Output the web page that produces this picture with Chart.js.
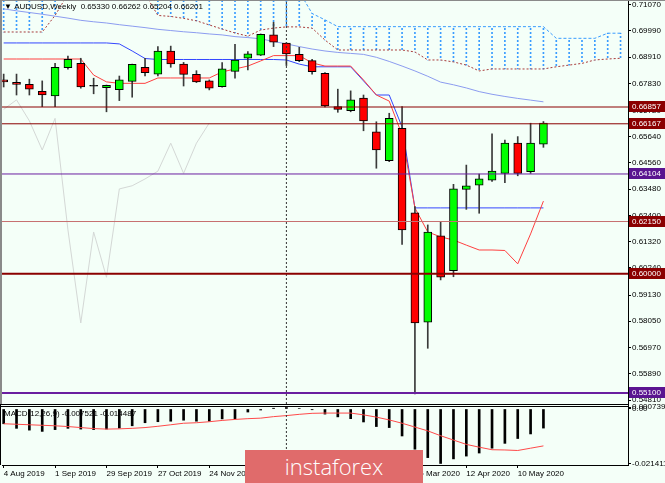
<!DOCTYPE html>
<html>
<head>
<meta charset="utf-8">
<script src="https://cdn.jsdelivr.net/npm/chart.js@4.4.1/dist/chart.umd.min.js"></script>
<style>
html, body { margin: 0; padding: 0; background: #f4fff8; }
#wrap { position: relative; width: 665px; height: 483px; }
#brand { position: absolute; left: 245px; top: 450px; width: 178px; height: 33px; background: #e06b6b;
  color: #fff; font: 300 22px "Open Sans", sans-serif; text-align: center; line-height: 32px; }
</style>
</head>
<body>
<div id="wrap">
  <canvas id="c" width="665" height="483"></canvas>
  <div id="brand">instaforex</div>
</div>
<script>
// AUDUSD weekly, 4 Aug 2019 .. 24 May 2020
const open  = [0.6797,0.6787,0.6779,0.6750,0.6731,0.6847,0.6865,0.6772,0.6765,0.6757,0.6791,0.6849,0.6821,0.6916,0.6862,0.6820,0.6793,0.6769,0.6832,0.6886,0.6899,0.6982,0.6948,0.6902,0.6876,0.6824,0.6687,0.6671,0.6722,0.6584,0.6465,0.6598,0.6251,0.5801,0.6156,0.6013,0.6347,0.6364,0.6385,0.6413,0.6537,0.6420,0.6533];
const high  = [0.6821,0.6821,0.6800,0.6793,0.6865,0.6895,0.6886,0.6804,0.6776,0.6813,0.6862,0.6886,0.6934,0.6936,0.6869,0.6835,0.6797,0.6868,0.6943,0.6913,0.6986,0.7034,0.6950,0.6931,0.6882,0.6827,0.6759,0.6752,0.6735,0.6625,0.6660,0.6687,0.6276,0.6201,0.6214,0.6368,0.6447,0.6410,0.6575,0.6550,0.6564,0.6619,0.6626];
const low   = [0.6768,0.6735,0.6735,0.6687,0.6687,0.6841,0.6763,0.6740,0.6666,0.6712,0.6726,0.6813,0.6813,0.6849,0.6772,0.6786,0.6756,0.6767,0.6804,0.6838,0.6897,0.6934,0.6856,0.6872,0.6821,0.6686,0.6664,0.6666,0.6588,0.6434,0.6461,0.6121,0.5506,0.5694,0.5975,0.5988,0.6265,0.6249,0.6380,0.6375,0.6403,0.6413,0.6520];
const close = [0.6789,0.6779,0.6759,0.6735,0.6849,0.6882,0.6768,0.6771,0.6775,0.6797,0.6861,0.6827,0.6916,0.6863,0.6820,0.6789,0.6763,0.6843,0.6879,0.6904,0.6984,0.6952,0.6904,0.6876,0.6831,0.6690,0.6676,0.6715,0.6629,0.6509,0.6639,0.6181,0.5798,0.6172,0.5986,0.6349,0.6362,0.6390,0.6422,0.6537,0.6413,0.6537,0.6620];

// ichimoku
const tenkan = [0.6883,0.6883,0.6883,0.6883,0.6883,0.6883,0.6883,0.6817,0.6789,0.6783,0.6783,0.6783,0.6805,0.6805,0.6805,0.6805,0.6805,0.6830,0.6842,0.6854,0.6875,0.6897,0.6897,0.6897,0.6867,0.6854,0.6854,0.6854,0.6797,0.6735,0.6710,0.6571,0.6271,0.6172,0.6152,0.6139,0.6118,0.6098,0.6098,0.6096,0.6041,0.6164,0.6299];
const kijun  = [0.6949,0.6949,0.6949,0.6949,0.6949,0.6949,0.6949,0.6949,0.6949,0.6945,0.6916,0.6885,0.6881,0.6881,0.6881,0.6881,0.6881,0.6881,0.6881,0.6881,0.6881,0.6881,0.6879,0.6862,0.6851,0.6851,0.6851,0.6851,0.6793,0.6735,0.6735,0.6604,0.6271,0.6271,0.6271,0.6271,0.6271,0.6271,0.6271,0.6271,0.6271,0.6271,0.6271];
const spanA  = [0.7160,0.7160,0.7160,0.7160,0.7160,0.7160,0.7160,0.7160,0.7160,0.7160,0.7160,0.7160,0.7160,0.7160,0.7160,0.7160,0.7160,0.7160,0.7160,0.7160,0.7160,0.7160,0.7160,0.7160,0.7070,0.7044,0.7016,0.7016,0.7016,0.7016,0.7016,0.7016,0.7016,0.7016,0.7016,0.7016,0.7016,0.7016,0.7016,0.7016,0.7016,0.7016,0.7016,0.6968,0.6968,0.6968,0.6968,0.6989,0.6989];
const spanB  = [0.6994,0.6994,0.6994,0.6994,0.7062,0.7150,0.7150,0.7150,0.7150,0.7150,0.7150,0.7150,0.7062,0.7058,0.7050,0.7040,0.7023,0.7006,0.6990,0.6977,0.7002,0.7010,0.7015,0.7015,0.7010,0.6961,0.6920,0.6920,0.6920,0.6920,0.6920,0.6920,0.6912,0.6879,0.6879,0.6871,0.6858,0.6834,0.6842,0.6842,0.6842,0.6842,0.6842,0.6851,0.6858,0.6865,0.6879,0.6883,0.6886];
const chikou = [0.6676,0.6715,0.6629,0.6509,0.6639,0.6181,0.5798,0.6172,0.5986,0.6349,0.6362,0.6390,0.6422,0.6537,0.6413,0.6537,0.6620];
const ma     = [0.7089,0.7081,0.7074,0.7067,0.7059,0.7051,0.7042,0.7036,0.7031,0.7024,0.7018,0.7012,0.7005,0.7000,0.6995,0.6991,0.6986,0.6982,0.6975,0.6971,0.6966,0.6955,0.6945,0.6934,0.6924,0.6916,0.6910,0.6906,0.6902,0.6890,0.6873,0.6854,0.6834,0.6812,0.6788,0.6777,0.6764,0.6749,0.6738,0.6729,0.6721,0.6714,0.6707];

// MACD(12,26,9)
const macd   = [-0.0058,-0.0076,-0.0083,-0.0088,-0.0081,-0.0076,-0.0079,-0.0081,-0.0079,-0.0075,-0.0066,-0.0054,-0.0050,-0.0048,-0.0044,-0.0048,-0.0048,-0.0039,-0.0038,-0.0012,-0.0004,0.0003,0.0006,0.0002,-0.0003,-0.0020,-0.0031,-0.0038,-0.0051,-0.0069,-0.0073,-0.0106,-0.0158,-0.0191,-0.0214,-0.0196,-0.0185,-0.0173,-0.0154,-0.0135,-0.0116,-0.0098,-0.0075];
const signal = [-0.0058,-0.0060,-0.0062,-0.0064,-0.0066,-0.0069,-0.0073,-0.0077,-0.0079,-0.0078,-0.0076,-0.0073,-0.0068,-0.0062,-0.0056,-0.0054,-0.0050,-0.0045,-0.0041,-0.0038,-0.0036,-0.0030,-0.0026,-0.0021,-0.0017,-0.0016,-0.0016,-0.0016,-0.0023,-0.0032,-0.0043,-0.0056,-0.0071,-0.0086,-0.0105,-0.0122,-0.0139,-0.0150,-0.0160,-0.0161,-0.0163,-0.0154,-0.0145];

// horizontal levels
const levels      = [0.66857, 0.66167, 0.64104, 0.62150, 0.60000, 0.55100];
const levelColors = ['#8b0000', '#8b0000', '#6a1fa0', '#c77070', '#8b0000', '#6a1fa0'];
const levelTagBg  = ['#8b0000', '#8b0000', '#5a1490', '#8b0000', '#8b0000', '#5a1490'];
const levelWidth  = [1, 1, 1, 1, 2, 2];

// axes
const tickIdx  = [0, 4, 8, 12, 16, 20, 24, 28, 32, 36, 40];
const tickText = ['4 Aug 2019','1 Sep 2019','29 Sep 2019','27 Oct 2019','24 Nov 2019','22 Dec 2019','19 Jan 2020','16 Feb 2020','15 Mar 2020','12 Apr 2020','10 May 2020'];
const priceTicks = [0.71070,0.69990,0.68910,0.67830,0.66720,0.65640,0.64560,0.63480,0.62400,0.61320,0.60240,0.59130,0.58050,0.56970,0.55890,0.54810];
const macdTicks = [0.000739, 0, -0.021411];
const macdTickText = ['0.000739', '0.00', '-0.021411'];
const sepIdx = 22;

const X_MIN = -0.13, X_MAX = 48.58;
const Y_MIN = 0.5465, Y_MAX = 0.71255;
const M_MIN = -0.0220, M_MAX = 0.00196;
const FONT = 'Liberation Sans';

const cctx = document.getElementById('c').getContext('2d');
function dotted(color, on, off) {
  const p = document.createElement('canvas');
  p.width = 1; p.height = on + off;
  const g = p.getContext('2d');
  g.fillStyle = color; g.fillRect(0, 0, 1, on);
  return cctx.createPattern(p, 'repeat');
}

const pts = arr => arr.map((v, i) => ({x: i, y: v}));
const bodyColor = close.map((c, i) => Math.abs(c - open[i]) < 0.0002 ? '#000' : (c >= open[i] ? '#00ff00' : '#ff0000'));

function lineDs(data, color, order, extra) {
  return Object.assign({type: 'line', data: data, borderColor: color, borderWidth: 1,
    pointRadius: 0, tension: 0, fill: false, order: order, yAxisID: 'y', clip: 0}, extra || {});
}

const datasets = [
  {type: 'bar', data: spanA.map((v, i) => ({x: i, y: [spanB[i], v]})), backgroundColor: dotted('#3a9cff', 2, 2),
    barThickness: 1, grouped: false, order: 30, yAxisID: 'y', clip: 0},
  lineDs(pts(spanA), '#3a9cff', 29, {borderDash: [3, 2]}),
  lineDs(pts(spanB), '#a83a3a', 28, {borderDash: [2, 2]}),
  lineDs(pts(chikou), '#d4d8d6', 27),
  lineDs(pts(ma), '#8c9cf0', 26),
  lineDs(pts(kijun), '#3346ff', 25),
  lineDs(pts(tenkan), '#ff4040', 24),
  {type: 'bar', data: low.map((v, i) => ({x: i, y: [v, high[i]]})), backgroundColor: '#3a3a3a',
    barThickness: 1, grouped: false, order: 12, yAxisID: 'y', clip: 0},
  {type: 'bar', data: open.map((v, i) => ({x: i, y: [v, close[i]]})), backgroundColor: bodyColor,
    borderColor: '#000', borderWidth: 1, borderSkipped: false, minBarLength: 1,
    barThickness: 8, grouped: false, order: 11, yAxisID: 'y', clip: 0},
  {type: 'bar', data: pts(macd), backgroundColor: '#000', barThickness: 2, grouped: false, order: 6, yAxisID: 'y2', clip: 0},
  lineDs(pts(signal), '#ff4a4a', 5, {yAxisID: 'y2'}),
  lineDs([{x: sepIdx, y: Y_MIN}, {x: sepIdx, y: Y_MAX}], '#333', 4, {borderDash: [2, 2]}),
  lineDs([{x: sepIdx, y: M_MIN}, {x: sepIdx, y: M_MAX}], '#333', 4, {borderDash: [2, 2], yAxisID: 'y2'})
];
levels.forEach((v, k) => {
  datasets.push(lineDs([{x: X_MIN, y: v}, {x: X_MAX, y: v}], levelColors[k], 3, {borderWidth: levelWidth[k]}));
});

const overlay = {
  id: 'overlay',
  beforeDraw(chart) {
    const c = chart.ctx;
    c.save();
    c.fillStyle = '#f4fff8';
    c.fillRect(0, 0, chart.width, chart.height);
    c.restore();
  },
  afterDraw(chart) {
    const c = chart.ctx, a = chart.chartArea, ys = chart.scales.y, ms = chart.scales.y2;
    c.save();
    // panel frames
    c.fillStyle = '#8a8a8a';
    c.fillRect(0, 0, chart.width, 1);
    c.fillRect(0, 0, 2, ys.bottom);
    c.fillStyle = '#000';
    c.fillRect(0, ys.bottom, a.right, 1);
    c.fillRect(0, ms.top + 2, a.right, 1);
    c.fillRect(0, ms.top, 1, ms.bottom - ms.top);
    // captions
    c.font = '8px "' + FONT + '"';
    c.textBaseline = 'middle';
    c.fillStyle = '#000';
    c.fillText('\u25BC AUDUSD,Weekly  0.65330 0.66262 0.65204 0.66201', 4, 7);
    c.fillText('MACD(12,26,9) -0.007521 -0.014487', 4, ms.top + 10);
    // level tags
    levels.forEach((v, k) => {
      const y = Math.round(ys.getPixelForValue(v));
      c.fillStyle = levelTagBg[k];
      c.fillRect(a.right + 1, y - 6, chart.width - a.right - 1, 11);
      c.fillStyle = '#fff';
      c.fillText(v.toFixed(5), a.right + 4, y);
    });
    c.restore();
  }
};

const noPad = s => { s.paddingTop = 0; s.paddingBottom = 0; };

new Chart(cctx, {
  type: 'bar',
  data: {datasets: datasets},
  options: {
    responsive: false,
    animation: false,
    layout: {padding: {left: 2, right: 0, top: 0, bottom: 0}},
    plugins: {legend: {display: false}, tooltip: {enabled: false}},
    scales: {
      x: {
        type: 'linear', min: X_MIN, max: X_MAX, offset: false,
        afterBuildTicks: s => { s.ticks = tickIdx.map(v => ({value: v})); },
        afterFit: s => { s.height = 18; s.paddingLeft = 0; s.paddingRight = 0; },
        grid: {drawOnChartArea: false, offset: false, tickLength: 3, color: '#000'},
        border: {color: '#000'},
        ticks: {autoSkip: false, maxRotation: 0, align: 'start', padding: 1, color: '#000',
          font: {family: FONT, size: 8}, callback: (v, i) => tickText[i]}
      },
      y: {
        type: 'linear', position: 'right', stack: 'panes', stackWeight: 404, min: Y_MIN, max: Y_MAX,
        afterBuildTicks: s => { s.ticks = priceTicks.map(v => ({value: v})); },
        afterFit: s => { s.width = 37; noPad(s); },
        grid: {drawOnChartArea: false, tickLength: 3, color: '#000'},
        border: {color: '#000'},
        ticks: {autoSkip: false, padding: 1, color: '#000', font: {family: FONT, size: 8},
          callback: v => v.toFixed(5)}
      },
      y2: {
        type: 'linear', position: 'right', stack: 'panes', stackWeight: 61, min: M_MIN, max: M_MAX,
        afterBuildTicks: s => { s.ticks = macdTicks.map(v => ({value: v})); },
        afterFit: s => { s.width = 37; noPad(s); },
        grid: {drawOnChartArea: false, tickLength: 3, color: '#000'},
        border: {color: '#000'},
        ticks: {autoSkip: false, padding: 1, color: '#000', font: {family: FONT, size: 8},
          callback: (v, i) => macdTickText[i]}
      }
    }
  },
  plugins: [overlay]
});
</script>
</body>
</html>
